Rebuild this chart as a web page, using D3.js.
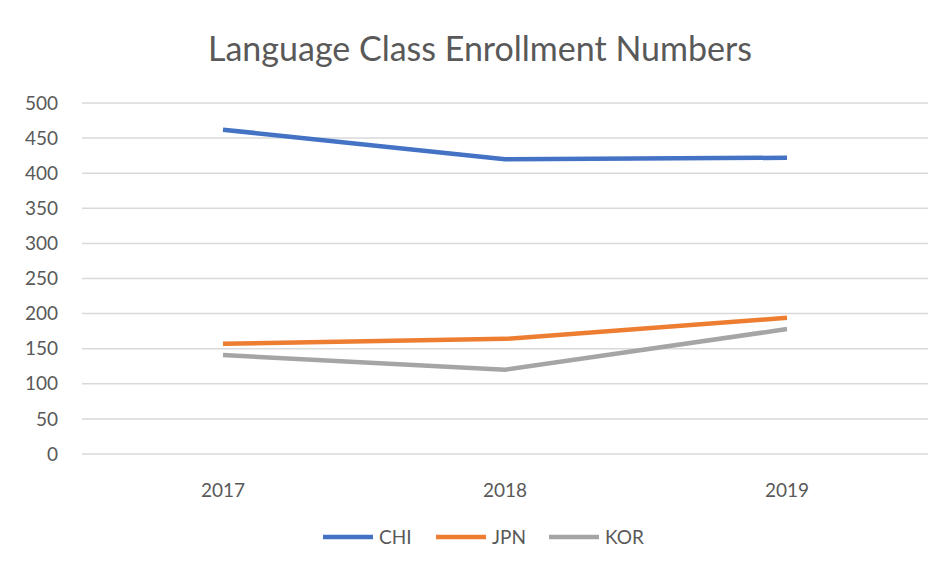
<!DOCTYPE html>
<html><head><meta charset="utf-8">
<script src="https://cdn.jsdelivr.net/npm/d3@7"></script>
<style>body{margin:0;background:#fff}svg{display:block}</style>
</head><body>
<svg id="c" width="941" height="571"></svg>
<script>
const years = ["2017","2018","2019"];
const chi = [462, 420, 422];
const jpn = [157, 164, 194];
const kor = [141, 120, 178];
const yTicks = [0,50,100,150,200,250,300,350,400,450,500];
const seriesNames = ["CHI","JPN","KOR"];
const colors = ["#4472C4","#ED7D31","#A5A5A5"];
const series = [chi, jpn, kor];

const svg = d3.select("#c");
const font = "Lato, 'Open Sans', sans-serif";
const W = 941, H = 571;
svg.append("rect").attr("width",W).attr("height",H).attr("fill","#fff");

const x = d3.scaleBand().domain(years).range([82, 928]);
const y = d3.scaleLinear().domain([0,500]).range([454, 103]);

svg.append("text").attr("x", 480).attr("y", 61).attr("text-anchor","middle")
  .attr("font-family", font).attr("font-size", 34).attr("fill","#595959")
  .text("Language Class Enrollment Numbers");

const g = svg.append("g");
g.selectAll("line.grid").data(yTicks).join("line")
  .attr("x1", 82).attr("x2", 928)
  .attr("y1", d=>y(d)).attr("y2", d=>y(d))
  .attr("stroke","#D9D9D9").attr("stroke-width",1.5);

g.selectAll("text.yt").data(yTicks).join("text")
  .attr("x", 58).attr("y", d=>y(d)).attr("dy","0.35em")
  .attr("text-anchor","end").attr("font-family",font).attr("font-size",19)
  .attr("fill","#595959").text(d=>d);

g.selectAll("text.xt").data(years).join("text")
  .attr("x", d=>x(d)+x.bandwidth()/2).attr("y", 490).attr("dy","0.35em")
  .attr("text-anchor","middle").attr("font-family",font).attr("font-size",19)
  .attr("fill","#595959").text(d=>d);

const line = d3.line().x((d,i)=>x(years[i])+x.bandwidth()/2).y(d=>y(d));
series.forEach((s,i)=>{
  svg.append("path").attr("d", line(s)).attr("fill","none")
    .attr("stroke", colors[i]).attr("stroke-width",4.5)
    .attr("stroke-linejoin","round");
});

const legX = [323, 436, 549];
seriesNames.forEach((n,i)=>{
  svg.append("line").attr("x1",legX[i]).attr("x2",legX[i]+50)
    .attr("y1",537).attr("y2",537).attr("stroke",colors[i]).attr("stroke-width",4.5);
  svg.append("text").attr("x",legX[i]+56).attr("y",537).attr("dy","0.35em")
    .attr("font-family",font).attr("font-size",19).attr("fill","#595959").text(n);
});
</script>
</body></html>
